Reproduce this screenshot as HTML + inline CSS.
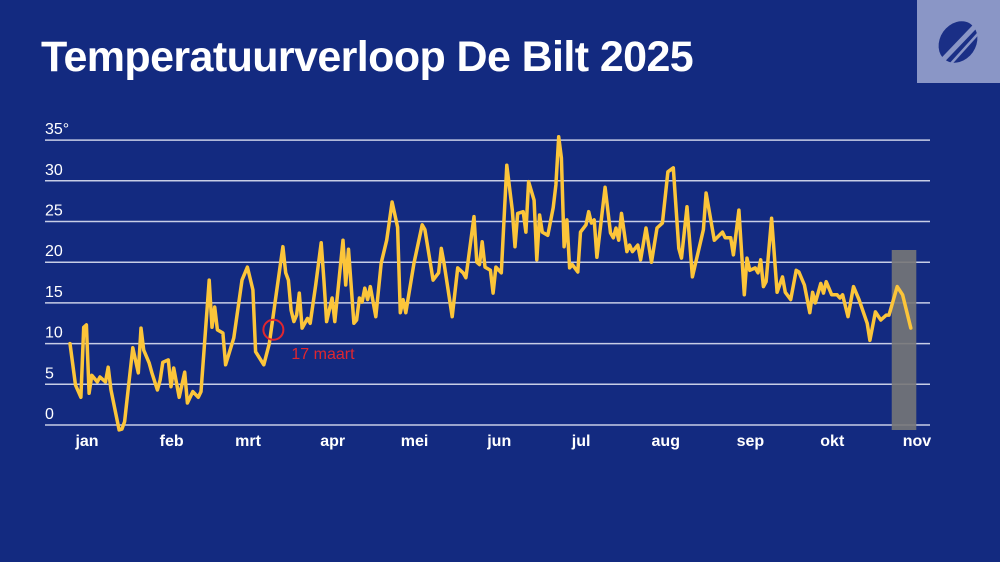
<!DOCTYPE html>
<html><head><meta charset="utf-8"><style>
html,body{margin:0;padding:0;background:#132a80;}
body{width:1000px;height:562px;overflow:hidden;position:relative;font-family:"Liberation Sans",sans-serif;}
h1{position:absolute;left:41px;top:33px;margin:0;color:#fff;font-size:43px;font-weight:bold;letter-spacing:-0.6px;}
.logo{position:absolute;left:917px;top:0;width:83px;height:83px;background:#8a96c6;}
svg.chart{position:absolute;left:0;top:0;}
</style></head><body>
<h1>Temperatuurverloop De Bilt 2025</h1>
<div class="logo">
<svg width="83" height="83" viewBox="0 0 83 83"><ellipse cx="41" cy="42" rx="18" ry="22" transform="rotate(35 41 42)" fill="#1a2f86"/><line x1="22" y1="64" x2="66" y2="18" stroke="#8a96c6" stroke-width="5"/><line x1="30" y1="68" x2="68" y2="26" stroke="#8a96c6" stroke-width="2.5"/></svg>
</div>
<svg class="chart" width="1000" height="562">
<g id="grid"></g><g id="marks"></g>
</svg>
<script>
const days=[0,2,4,5,6,7,8,10,11,13,14,15,18,19,20,23,25,26,27,29,30,32,33,34,36,37,38,40,42,43,45,47,48,51,52,53,54,56,57,60,63,65,67,68,71,73,76,78,79,80,81,82,83,84,85,87,88,90,92,93,94,96,97,100,101,102,104,105,106,107,108,109,110,112,114,116,118,120,121,122,123,126,129,130,133,135,136,137,140,142,144,145,148,149,150,151,152,154,155,156,158,160,162,163,164,166,167,168,170,171,172,173,175,177,178,179,180,181,182,183,184,186,187,189,190,191,192,193,196,198,199,200,201,202,204,205,206,208,209,211,213,215,217,219,221,223,224,226,228,232,233,236,239,240,242,243,245,247,248,249,251,252,253,254,255,257,259,261,262,264,266,267,269,271,272,273,275,276,277,279,281,282,283,285,287,289,292,293,295,297,299,300,303,305,308];
const temps=[10,4.9,3.4,12,12.3,3.9,6.1,5.3,5.9,5.3,7.1,4.3,-0.6,-0.5,0.4,9.5,6.4,11.9,9.2,7.6,6.4,4.3,5.5,7.7,8,4.7,7,3.4,6.5,2.7,4.1,3.4,4.1,17.8,12,14.5,11.7,11.3,7.4,10.7,17.8,19.4,16.6,9,7.4,10,17.2,21.9,18.7,17.8,14.1,12.7,13.5,16.2,11.9,13.1,12.5,17.2,22.4,17.8,12.7,15.6,12.7,22.7,17.2,21.6,12.5,12.9,15.6,15.1,16.8,15.4,17,13.3,19.9,22.7,27.4,24.3,13.8,15.4,13.8,19.9,24.6,24,17.8,18.7,21.7,19.9,13.3,19.3,18.7,18.1,25.6,20,19.7,22.5,19.4,19,16.2,19.4,18.7,31.9,26.4,21.9,26,26.2,23.7,29.9,27.6,20.3,25.8,23.7,23.3,26.7,29.5,35.4,32.8,21.9,25.2,19.3,19.7,18.8,23.7,24.6,26.2,24.8,25.2,20.6,29.2,23.6,23,24.2,22.7,26,21.3,22.1,21.3,22.1,20.3,24.2,20,24.2,24.8,31.1,31.6,21.7,20.5,26.8,18.2,24,28.5,22.7,23.7,23,23,20.9,26.4,16,20.5,19,19.3,18.7,20.3,17,17.6,25.4,16.3,18.2,16.3,15.4,19,18.8,17.2,13.8,16.3,15,17.4,16.2,17.6,16,16,15.6,16,13.3,17,15.4,12.5,10.4,13.9,12.9,13.5,13.5,17,16,11.9];
const yTicks=[0,5,10,15,20,25,30,35];
const yTickLabels=["0","5","10","15","20","25","30","35°"];
const months=["jan","feb","mrt","apr","mei","jun","jul","aug","sep","okt","nov"];
const monthStart=[0,31,59,90,120,151,181,212,243,273,304];
const highlightDay=74.5, highlightValue=11.7, highlightLabel="17 maart";
const shadeStart=301, shadeEnd=310, shadeTop=21.5;

const X=d=>70+d*2.73;
const Y=v=>425-v*8.14;
const NS="http://www.w3.org/2000/svg";
const grid=document.getElementById('grid'), marks=document.getElementById('marks');
function mk(tag,attrs,parent){const e=document.createElementNS(NS,tag);for(const k in attrs)e.setAttribute(k,attrs[k]);parent.appendChild(e);return e;}
yTicks.forEach((t,i)=>{
  const l=mk('line',{x1:45,x2:930,y1:Y(t),y2:Y(t),stroke:'#c7cde6','stroke-width':1.5},grid);
  
  
  const tx=mk('text',{x:45,y:Y(t)-6,fill:'#fff','font-size':16,'font-family':'Liberation Sans, sans-serif'},grid);
  tx.textContent=yTickLabels[i];
  
  
});
months.forEach((m,i)=>{
  const tx=mk('text',{x:X(monthStart[i])+17,y:446,fill:'#fff','font-size':16,'font-weight':'bold','text-anchor':'middle','font-family':'Liberation Sans, sans-serif'},grid);
  tx.textContent=m;
  
  
});
const sh=mk('rect',{x:X(shadeStart),y:Y(shadeTop),width:X(shadeEnd)-X(shadeStart),height:430-Y(shadeTop),fill:'#777777','fill-opacity':0.9},marks);


let d='';days.forEach((dd,i)=>{d+=(i?'L':'M')+X(dd).toFixed(1)+','+Y(temps[i]).toFixed(1);});
const p=mk('path',{d:d,fill:'none',stroke:'#fcc53a','stroke-width':3.5,'stroke-linejoin':'round','stroke-linecap':'round'},marks);


const c=mk('circle',{cx:X(highlightDay),cy:Y(highlightValue),r:10,fill:'none',stroke:'#e0262f','stroke-width':2},marks);


const ht=mk('text',{x:X(highlightDay)+18,y:Y(highlightValue)+29,fill:'#e0262f','font-size':16,'font-family':'Liberation Sans, sans-serif'},marks);
ht.textContent=highlightLabel;


</script>
</body></html>
